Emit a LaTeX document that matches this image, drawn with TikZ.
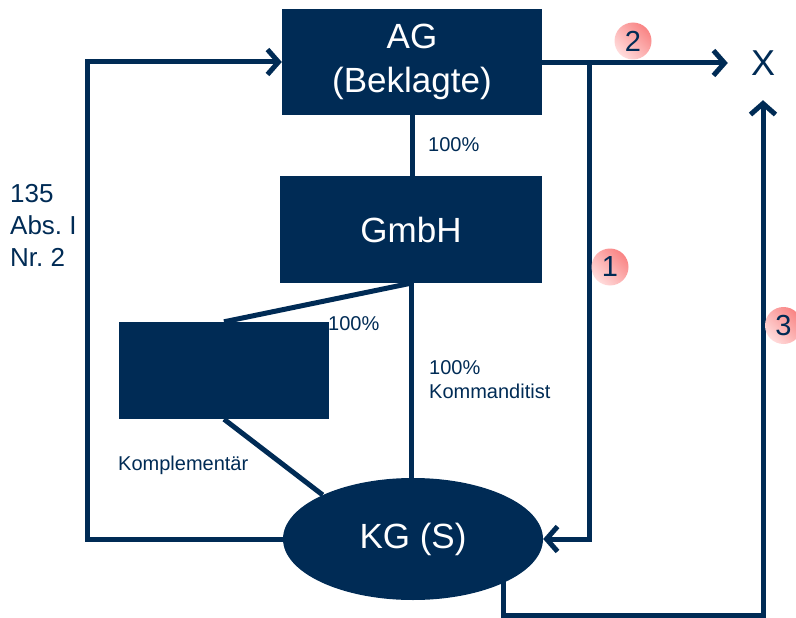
\documentclass[tikz,border=0pt]{standalone}
\usepackage{fontspec}
\setmainfont{Liberation Sans}
\usetikzlibrary{arrows.meta,shapes.geometric,backgrounds}
\definecolor{navy}{HTML}{002B55}
\definecolor{numlight}{HTML}{FFDCDC}
\definecolor{numdark}{HTML}{F98484}
\frenchspacing

\begin{document}
\begin{tikzpicture}[x=1pt,y=-1pt,
  entity/.style={fill=navy, draw=none, text=white, inner sep=0pt, align=center,
                 font=\fontsize{35}{44}\selectfont},
  link/.style={draw=navy, line width=5pt},
  arrowlink/.style={link, -{Straight Barb[length=11pt,width=25pt]}},
  lbl/.style={text=navy, font=\fontsize{20}{24}\selectfont, inner sep=0pt,
              anchor=west, align=left},
  num/.style={circle, minimum size=37pt, inner sep=0pt, top color=numdark,
              bottom color=numlight, shading angle=-45, text=navy,
              font=\fontsize{29}{29}\selectfont}]

\useasboundingbox (0,0) rectangle (796,618);
\clip (0,0) rectangle (796,618);

% entities
\node[entity, minimum width=260pt, minimum height=106pt] (AG) at (412,62) {AG\\(Beklagte)};
\node[entity, minimum width=262pt, minimum height=107pt] (GmbH) at (411,229.5) {GmbH};
\node[entity, minimum width=210pt, minimum height=97pt] (K) at (224,370.5) {};
\node[entity, ellipse, minimum width=260pt, minimum height=122pt] (KG) at (413,539) {KG (S)};
\node[text=navy, font=\fontsize{36}{44}\selectfont, minimum width=70pt,
      minimum height=74pt, inner sep=0pt] (X) at (763,63) {X};

% helper points of the connectors
\coordinate (jn) at (589,63);
\coordinate (lx) at (87,0);
\coordinate (cb) at (503,615);
\coordinate (xb) at (763,615);

% step markers
\node[num] (n2) at (633,41) {2};
\node[num] (n1) at (610,267) {1};
\node[num] (n3) at (783.5,325.5) {3};

% connectors
\begin{scope}[on background layer]
  \draw[arrowlink] (AG.east |- jn) -- (X.west);
  \draw[arrowlink] (jn) |- (KG.east);
  \draw[arrowlink] (KG.west) -- (KG.west -| lx) -- (AG.west -| lx) -- (AG.west);
  \draw[arrowlink] (KG.center -| cb) -- (cb) -- (xb) -- (X.south);
  \draw[link] (AG.south) -- (AG.south |- GmbH.north);
  \draw[link] (GmbH.south) -- (GmbH.south |- KG.north);
  \draw[link] (GmbH.south) -- (K.north);
  \draw[link] (K.south) -- (KG.154);
\end{scope}

% labels
\node[lbl] (l1) at (428,145) {100\%};
\node[lbl] (l2) at (328,324) {100\%};
\node[lbl] (l3) at (429,380) {100\%\\Kommanditist};
\node[lbl] (l4) at (118,465) {Komplementär};
\node[lbl, font=\fontsize{26}{32}\selectfont] (l5) at (10,225) {135\\Abs. I\\Nr. 2};
\end{tikzpicture}
\end{document}
